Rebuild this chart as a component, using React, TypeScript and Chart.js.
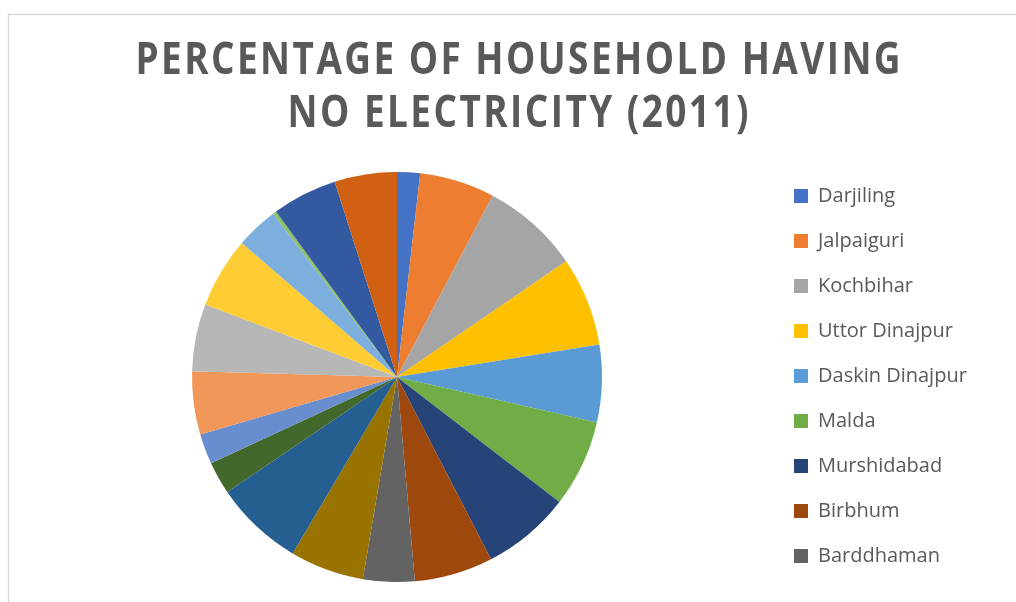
import { useEffect, useRef } from "react";
import { Chart, registerables } from "chart.js";

Chart.register(...registerables);

const districts = [
  "Darjiling",
  "Jalpaiguri",
  "Kochbihar",
  "Uttor Dinajpur",
  "Daskin Dinajpur",
  "Malda",
  "Murshidabad",
  "Birbhum",
  "Barddhaman",
  "Nadia",
  "North 24 Parganas",
  "Hugli",
  "Bankura",
  "Puruliya",
  "Paschim Medinipur",
  "Purba Medinipur",
  "Haora",
  "Kolkata",
  "South 24 Parganas",
  "Alipurduar",
];

const values = [
  6.5, 21.3, 27.8, 25.3, 21.9, 24.8, 25.1, 22.3, 14.6, 21.0, 25.3, 9.2, 8.6,
  17.9, 19.1, 20.1, 12.0, 1.0, 18.5, 17.7,
];

const colors = [
  "#4472C4", "#ED7D31", "#A5A5A5", "#FFC000", "#5B9BD5", "#70AD47",
  "#264478", "#9E480E", "#636363", "#997300", "#255E91", "#43682B",
  "#698ED0", "#F1975A", "#B7B7B7", "#FFCD33", "#7CAFDD", "#8CC168",
  "#335AA1", "#D26012",
];

const titleLines = ["PERCENTAGE OF HOUSEHOLD HAVING", "NO ELECTRICITY (2011)"];
const legendShown = 9;

export default function App() {
  const ref = useRef<HTMLCanvasElement>(null);

  useEffect(() => {
    const canvas = ref.current!;
    const W = 1016;
    const fontFamily = "'Open Sans', 'Noto Sans', sans-serif";
    const legendSize = 20;
    const legendPad = 25;
    const boxW = 14;

    const mctx = canvas.getContext("2d")!;
    mctx.font = `${legendSize}px ${fontFamily}`;
    const tw = Math.max(
      ...districts.slice(0, legendShown).map((d) => mctx.measureText(d).width)
    );
    const legendLeft = 769;
    const padR = W - (legendLeft + legendPad + boxW + legendSize / 2 + tw + 10);

    const framePlugin = {
      id: "frame",
      beforeDraw(chart: any) {
        const c = chart.ctx;
        c.save();
        c.strokeStyle = "#d9d9d9";
        c.lineWidth = 1.5;
        c.beginPath();
        c.moveTo(8.5, chart.height);
        c.lineTo(8.5, 14.5);
        c.lineTo(chart.width, 14.5);
        c.stroke();
        c.restore();
      },
    };

    const titlePlugin = {
      id: "customTitle",
      afterDraw(chart: any) {
        const c = chart.ctx;
        const cx = 518;
        const sx = 0.82;
        c.save();
        c.font = `bold 45px ${fontFamily}`;
        c.fillStyle = "#595959";
        c.textAlign = "center";
        c.textBaseline = "middle";
        (c as any).letterSpacing = "3px";
        c.translate(cx, 0);
        c.scale(sx, 1);
        c.fillText(titleLines[0], 1.5, 61);
        c.fillText(titleLines[1], 1.5, 114);
        c.restore();
      },
    };

    const chart = new Chart(canvas, {
      type: "pie",
      data: {
        labels: districts,
        datasets: [
          {
            data: values,
            backgroundColor: colors,
            borderWidth: 0,
            radius: 205,
          },
        ],
      },
      options: {
        responsive: false,
        animation: false,
        layout: { padding: { top: 161, bottom: 9, left: 25, right: padR } },
        plugins: {
          legend: {
            position: "right",
            align: "start",
            fullSize: false,
            labels: {
              boxWidth: boxW,
              boxHeight: 14,
              padding: legendPad,
              color: "#595959",
              font: { family: fontFamily, size: legendSize },
              filter: (item: any) => item.index < legendShown,
            },
          },
          title: { display: false },
          tooltip: { enabled: false },
        },
      } as any,
      plugins: [framePlugin, titlePlugin],
    });
    return () => chart.destroy();
  }, []);

  return (
    <div
      style={{
        position: "absolute",
        left: 0,
        top: 0,
        width: 1016,
        height: 602,
        background: "#ffffff",
        overflow: "hidden",
      }}
    >
      <canvas ref={ref} width={1016} height={602} style={{ display: "block" }} />
    </div>
  );
}
